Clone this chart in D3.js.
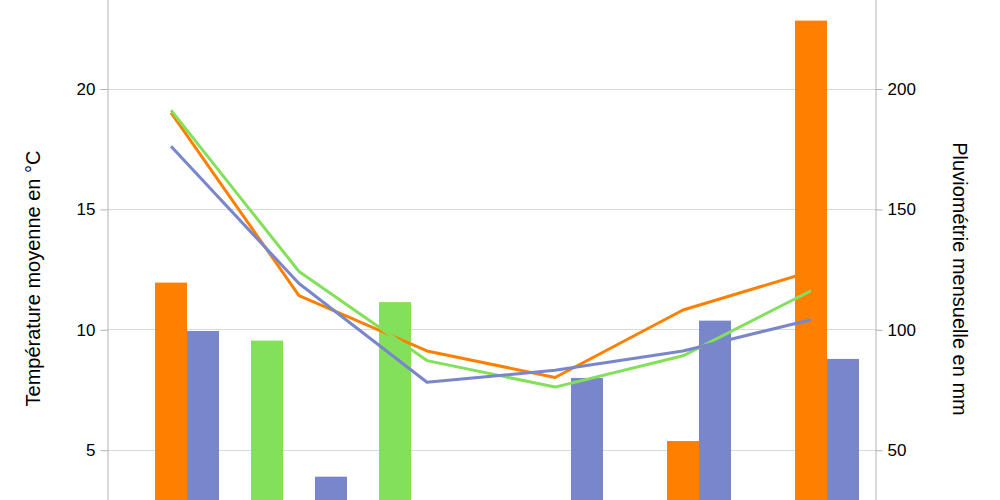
<!DOCTYPE html>
<html>
<head>
<meta charset="utf-8">
<script src="https://cdn.jsdelivr.net/npm/d3@7"></script>
<style>
  html, body { margin: 0; padding: 0; background: #fff; }
  svg { display: block; font-family: "Liberation Sans", Arial, sans-serif; }
</style>
</head>
<body>
<svg id="chart" width="1000" height="500"></svg>
<script>
// ---- data ----
const categories = ["Sept.", "Oct.", "Nov.", "Déc.", "Janv.", "Févr."];
// temperature (°C), lines, left axis
const tempOrange = [19.0, 11.4, 9.1, 8.0, 10.8, 12.4];
const tempGreen  = [19.1, 12.4, 8.7, 7.6, 8.9, 11.6];
const tempBlue   = [17.6, 11.9, 7.8, 8.3, 9.1, 10.4];
// precipitation (mm), bars, right axis (0 = no visible bar)
const rainGreen  = [0, 95.3, 111.3, 0, 0, 0];
const rainOrange = [119.4, 0, 0, 0, 53.6, 228.2];
const rainBlue   = [99.3, 38.8, 0, 79.8, 103.6, 87.7];
const tempTicks = [5, 10, 15, 20];
const rainTicks = [50, 100, 150, 200];
const leftTitle = "Température moyenne en °C";
const rightTitle = "Pluviométrie mensuelle en mm";

const colors = { orange: "#ff8000", green: "#83e05a", blue: "#7986cb" };

// ---- layout ----
const svg = d3.select("#chart");
const plotLeft = 107, plotRight = 875;
const yZero = 570.1, pxPerUnit = 24.08;

const x = d3.scaleBand().domain(categories).range([plotLeft, plotRight]).paddingInner(0).paddingOuter(0);
const sub = d3.scaleBand().domain(["green", "orange", "blue"]).range([x.bandwidth() / 8, x.bandwidth() * 7 / 8]);
const yT = d3.scaleLinear().domain([0, 25]).range([yZero, yZero - 25 * pxPerUnit]);
const yP = d3.scaleLinear().domain([0, 250]).range([yZero, yZero - 25 * pxPerUnit]);

// gridlines
svg.append("g").selectAll("line").data(tempTicks).join("line")
  .attr("x1", plotLeft).attr("x2", plotRight)
  .attr("y1", d => Math.round(yT(d)) + 0.5).attr("y2", d => Math.round(yT(d)) + 0.5)
  .attr("stroke", "#d9d9d9").attr("stroke-width", 1);

// axes
const axL = svg.append("g").attr("transform", `translate(${plotLeft + 0.5},0.5)`)
  .call(d3.axisLeft(yT).tickValues(tempTicks).tickSize(7).tickPadding(5).tickFormat(d3.format("d")));
const axR = svg.append("g").attr("transform", `translate(${plotRight + 0.5},0.5)`)
  .call(d3.axisRight(yP).tickValues(rainTicks).tickSize(7).tickPadding(5).tickFormat(d3.format("d")));
[axL, axR].forEach(g => {
  g.selectAll("path.domain").attr("stroke", "#b3b3b3");
  g.selectAll(".tick line").attr("stroke", "#b3b3b3");
  g.selectAll("text").attr("font-size", 17).attr("fill", "#000")
    .attr("font-family", '"Liberation Sans", Arial, sans-serif');
});

const line = d3.line().x((d, i) => x(categories[i]) + x.bandwidth() / 2).y(d => yT(d));

function drawBars(values, key) {
  const data = values.map((v, i) => ({ cat: categories[i], v })).filter(d => d.v > 0);
  svg.append("g").selectAll("rect").data(data).join("rect")
    .attr("x", d => x(d.cat) + sub(key))
    .attr("width", sub.bandwidth())
    .attr("y", d => yP(d.v))
    .attr("height", d => yP(0) - yP(d.v))
    .attr("fill", colors[key]);
}
function drawLine(values, key) {
  svg.append("path").datum(values)
    .attr("d", line)
    .attr("fill", "none")
    .attr("stroke", colors[key])
    .attr("stroke-width", 3)
    .attr("stroke-linejoin", "round");
}

// z-order as in the reference
drawBars(rainGreen, "green");
drawLine(tempOrange, "orange");
drawBars(rainOrange, "orange");
drawBars(rainBlue, "blue");
drawLine(tempGreen, "green");
drawLine(tempBlue, "blue");

// axis titles
svg.append("text").attr("transform", "translate(39.5,278.5) rotate(-90)")
  .attr("text-anchor", "middle").attr("font-size", 20).attr("fill", "#000").text(leftTitle);
svg.append("text").attr("transform", "translate(952.5,279) rotate(90)")
  .attr("text-anchor", "middle").attr("font-size", 20).attr("fill", "#000").text(rightTitle);
</script>
</body>
</html>
